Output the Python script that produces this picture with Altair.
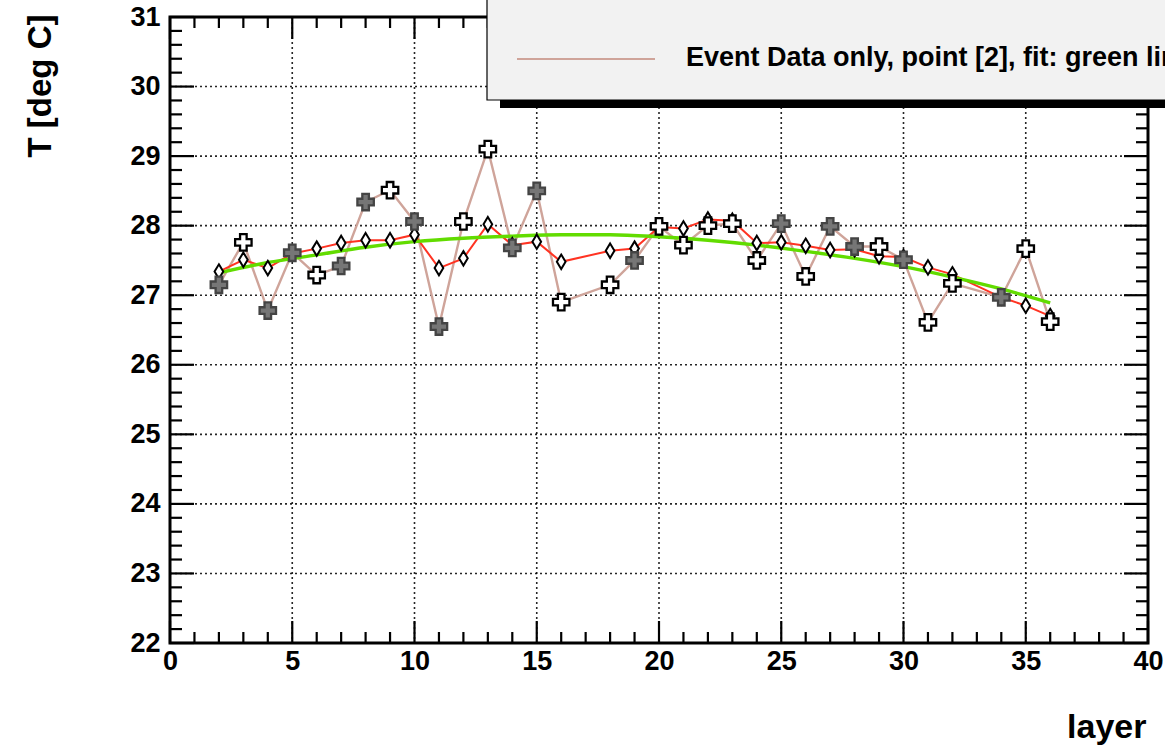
import altair as alt
import numpy as np
import pandas as pd

# Event-data series (brown line): layer number, temperature, marker filled grey?
ev_layer = [2, 3, 4, 5, 6, 7, 8, 9, 10, 11, 12, 13, 14, 15, 16, 18, 19, 20, 21, 22,
            23, 24, 25, 26, 27, 28, 29, 30, 31, 32, 34, 35, 36]
ev_temp = [27.15, 27.76, 26.78, 27.61, 27.29, 27.42, 28.34, 28.51, 28.06, 26.55,
           28.06, 29.10, 27.68, 28.50, 26.90, 27.15, 27.50, 27.99, 27.72, 28.00,
           28.03, 27.50, 28.03, 27.27, 27.99, 27.70, 27.70, 27.51, 26.61, 27.17,
           26.97, 27.67, 26.62]
ev_grey = [1, 0, 1, 1, 0, 1, 1, 0, 1, 1, 0, 0, 1, 1, 0, 0, 1, 0, 0, 0,
           0, 0, 1, 0, 1, 1, 0, 1, 0, 0, 1, 0, 0]

# Combined series (red line, open diamonds)
cmb_layer = ev_layer
cmb_temp = [27.34, 27.51, 27.39, 27.60, 27.67, 27.75, 27.79, 27.79, 27.87, 27.39,
            27.53, 28.02, 27.72, 27.77, 27.48, 27.64, 27.67, 27.98, 27.96, 28.09,
            28.07, 27.75, 27.76, 27.71, 27.65, 27.66, 27.56, 27.55, 27.40, 27.30,
            26.97, 26.85, 26.70]

# Fit curve (green line)
fit_layer = [2, 4, 6, 8, 10, 12, 14, 16, 18, 20, 22, 24, 26, 28, 30, 32, 34, 36]
fit_temp = [27.32, 27.47, 27.58, 27.69, 27.77, 27.82, 27.85, 27.87, 27.87, 27.84,
            27.79, 27.72, 27.63, 27.53, 27.41, 27.26, 27.09, 26.89]

legend_label = "Event Data only, point [2], fit: green line"

X_TICKS = list(range(0, 41, 5))
Y_TICKS = list(range(22, 32))

W, H = 978, 626
FONT = "Liberation Sans"
BROWN = "#cfa49a"
RED = "#ff3322"
GREEN = "#62dc00"

ev = pd.DataFrame({"layer": ev_layer, "T": ev_temp,
                   "grey": ["g" if g else "o" for g in ev_grey]})
cmb = pd.DataFrame({"layer": cmb_layer, "T": cmb_temp})
fit = pd.DataFrame({"layer": fit_layer, "T": fit_temp})

xs = alt.Scale(domain=[0, 40], nice=False, zero=False)
ys = alt.Scale(domain=[22, 31], nice=False, zero=False)

x_axis = alt.Axis(values=X_TICKS, title="layer", labelFont=FONT, labelFontSize=27,
                  labelFontWeight="bold", labelColor="black", labelPadding=5,
                  labelFlush=False, ticks=False, domain=False, grid=False,
                  titleFont=FONT, titleFontSize=34, titleFontWeight="bold",
                  titleColor="black", titleX=976, titleY=94, titleAlign="right",
                  titleBaseline="alphabetic", titleAngle=0)
y_axis = alt.Axis(values=Y_TICKS, title="T [deg C]", labelFont=FONT, labelFontSize=27,
                  labelFontWeight="bold", labelColor="black", labelPadding=10,
                  labelFlush=False, ticks=False, domain=False, grid=False,
                  titleFont=FONT, titleFontSize=33, titleFontWeight="bold",
                  titleColor="black", titleAngle=270, titleX=-130, titleY=-3,
                  titleAlign="right", titleBaseline="middle")


def X(field="layer"):
    return alt.X(f"{field}:Q", scale=xs, axis=x_axis)


def Y(field="T"):
    return alt.Y(f"{field}:Q", scale=ys, axis=y_axis)


# grid lines at major ticks
xgrid = pd.DataFrame({"layer": [v for v in X_TICKS if 0 < v < 40]})
ygrid = pd.DataFrame({"T": [v for v in Y_TICKS if 22 < v < 31]})
grid_style = dict(color="black", strokeWidth=1.6, strokeDash=[2, 3], opacity=0.85)
gx = alt.Chart(xgrid).mark_rule(**grid_style).encode(
    x=X(), y=alt.value(0), y2=alt.value(H))
gy = alt.Chart(ygrid).mark_rule(**grid_style).encode(
    y=Y(), x=alt.value(0), x2=alt.value(W))

# inward ticks on all four sides
x_major = pd.DataFrame({"layer": X_TICKS})
x_minor = pd.DataFrame({"layer": [v for v in range(0, 41) if v % 5]})
y_major = pd.DataFrame({"T": Y_TICKS})
y_minor = pd.DataFrame({"T": [round(v, 1) for v in np.arange(22, 31.01, 0.2)
                              if abs(v - round(v)) > 1e-6]})
tick_style = dict(color="black", strokeWidth=2.2)


def xticks(df, length):
    bottom = alt.Chart(df).mark_rule(**tick_style).encode(
        x=X(), y=alt.value(H), y2=alt.value(H - length))
    top = alt.Chart(df).mark_rule(**tick_style).encode(
        x=X(), y=alt.value(0), y2=alt.value(length))
    return [bottom, top]


def yticks(df, length):
    left = alt.Chart(df).mark_rule(**tick_style).encode(
        y=Y(), x=alt.value(0), x2=alt.value(length))
    right = alt.Chart(df).mark_rule(**tick_style).encode(
        y=Y(), x=alt.value(W), x2=alt.value(W - length))
    return [left, right]


ticks = xticks(x_major, 22) + xticks(x_minor, 11) + yticks(y_major, 24) + yticks(y_minor, 12)

# data lines
ev_line = alt.Chart(ev).mark_line(color=BROWN, strokeWidth=2.4).encode(x=X(), y=Y())
cmb_line = alt.Chart(cmb).mark_line(color=RED, strokeWidth=2).encode(x=X(), y=Y())
fit_line = alt.Chart(fit).mark_line(color=GREEN, strokeWidth=3.4,
                                    interpolate="monotone").encode(x=X(), y=Y())

# markers
diamond_path = "M0,-1L0.6,0L0,1L-0.6,0Z"
cmb_pts = alt.Chart(cmb).mark_point(
    shape=diamond_path, size=210, filled=True, fill="white",
    stroke="black", strokeWidth=2, opacity=1).encode(x=X(), y=Y())
ev_pts = alt.Chart(ev).mark_point(
    shape="cross", size=270, filled=True, strokeWidth=2.3, opacity=1).encode(
    x=X(), y=Y(),
    fill=alt.Fill("grey:N", scale=alt.Scale(domain=["g", "o"],
                                            range=["#767676", "white"]), legend=None),
    stroke=alt.Stroke("grey:N", scale=alt.Scale(domain=["g", "o"],
                                                range=["#444444", "black"]), legend=None))

# legend box with drop shadow
one = pd.DataFrame({"label": [legend_label]})
shadow = alt.Chart(one).mark_rect(color="black").encode(
    x=alt.value(330), x2=alt.value(1100), y=alt.value(82), y2=alt.value(91))
box = alt.Chart(one).mark_rect(fill="#f2f2f2", stroke="black", strokeWidth=1.2).encode(
    x=alt.value(317), x2=alt.value(1100), y=alt.value(-40), y2=alt.value(83))
key = alt.Chart(one).mark_rule(color=BROWN, strokeWidth=2).encode(
    x=alt.value(347), x2=alt.value(485), y=alt.value(42))
key_text = alt.Chart(one).mark_text(
    align="left", baseline="middle", font=FONT, fontSize=27, fontWeight="bold",
    color="black").encode(x=alt.value(516), y=alt.value(41), text="label:N")

chart = alt.layer(
    gx, gy, *ticks, ev_line, cmb_line, fit_line, cmb_pts, ev_pts,
    shadow, box, key, key_text
).properties(
    width=W, height=H,
    autosize=alt.AutoSizeParams(type="none"),
    padding={"left": 170, "top": 17, "right": 17, "bottom": 104},
    background="white",
).configure_view(
    stroke="black", strokeWidth=3
)

chart.save("out.html", embed_options={"renderer": "svg", "actions": False})
